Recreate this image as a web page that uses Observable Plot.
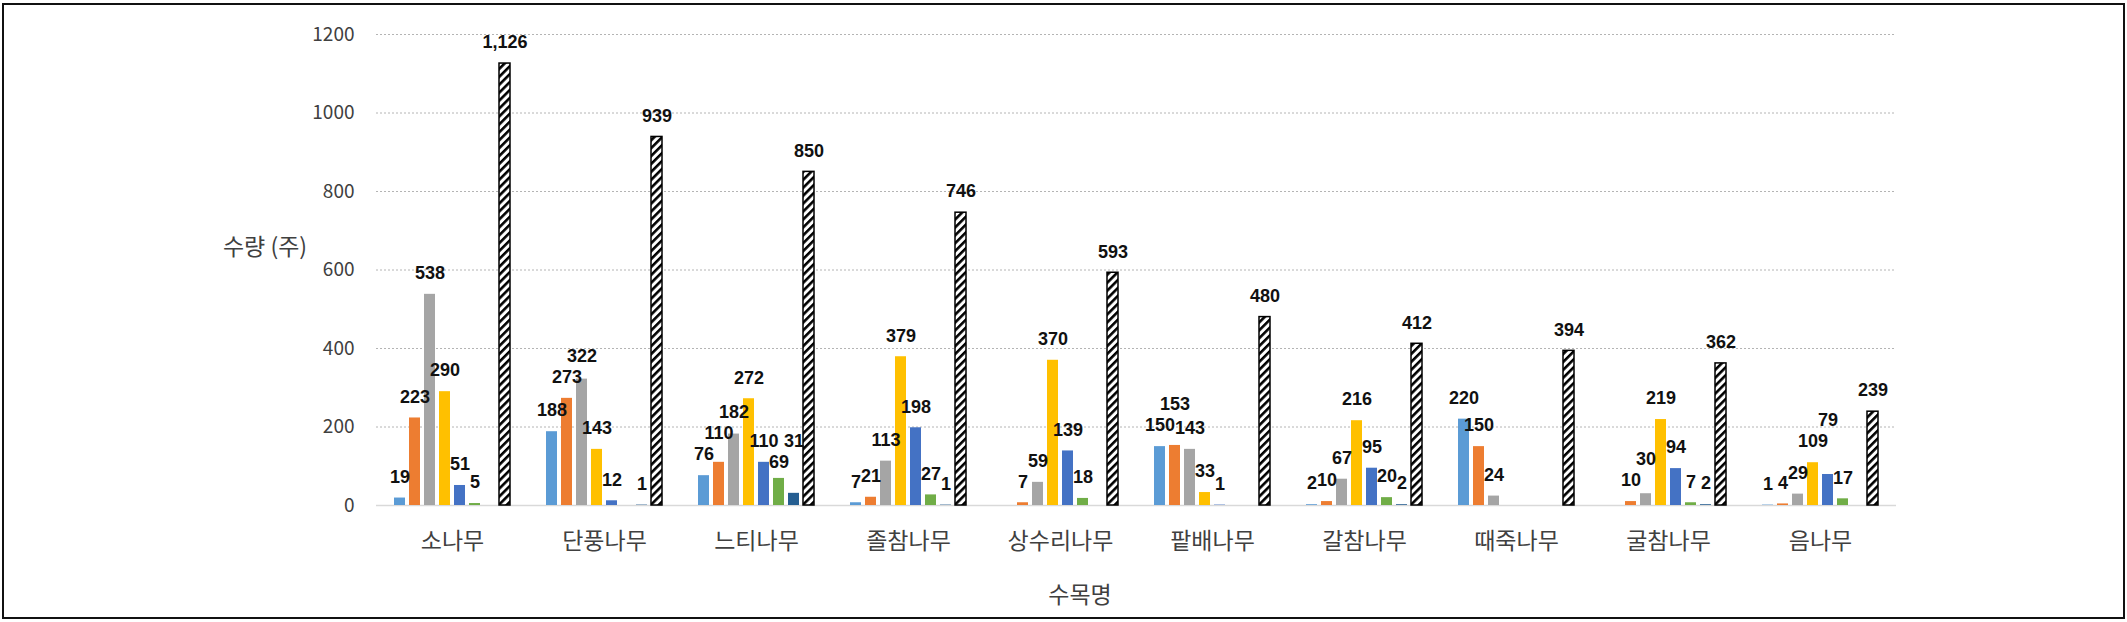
<!DOCTYPE html>
<html><head><meta charset="utf-8">
<script src="https://cdn.jsdelivr.net/npm/d3@7"></script>
<script src="https://cdn.jsdelivr.net/npm/@observablehq/plot@0.6"></script>
<style>
html,body{margin:0;padding:0;background:#fff;}
#wrap{position:relative;width:2127px;height:622px;overflow:hidden;font-family:"Noto Sans CJK KR","Noto Sans",sans-serif;background:#fff;}
#frame{position:absolute;left:2px;top:3px;width:2123px;height:616px;border:2px solid #111;box-sizing:border-box;pointer-events:none;}
.ttl{position:absolute;transform:translate(-50%,-50%);color:#404040;white-space:nowrap;line-height:1;}
#ylab{left:265px;top:245px;font-size:23px;}
#xlab{left:1080px;top:593px;font-size:23px;}
#chart svg{display:block;}
</style></head><body>
<div id="wrap"><div id="chart"></div><div id="ylab" class="ttl">수량 (주)</div><div id="xlab" class="ttl">수목명</div><div id="frame"></div></div>
<script>
const categories = ["소나무","단풍나무","느티나무","졸참나무","상수리나무","팥배나무","갈참나무","때죽나무","굴참나무","음나무"];
const seriesNames = ["1","2","3","4","5","6","7"];
const totalName = "합계";
const s1 = [19, 188, 76, 7, null, 150, 2, 220, null, 1];
const s2 = [223, 273, 110, 21, 7, 153, 10, 150, 10, 4];
const s3 = [538, 322, 182, 113, 59, 143, 67, 24, 30, 29];
const s4 = [290, 143, 272, 379, 370, 33, 216, null, 219, 109];
const s5 = [51, 12, 110, 198, 139, 1, 95, null, 94, 79];
const s6 = [5, null, 69, 27, 18, null, 20, null, 7, 17];
const s7 = [null, 1, 31, 1, null, null, 2, null, 2, null];
const totals = [1126, 939, 850, 746, 593, 480, 412, 394, 362, 239];
const yTicks = [0, 200, 400, 600, 800, 1000, 1200];
const seriesColors = ["#5B9BD5","#ED7D31","#A5A5A5","#FFC000","#4472C4","#70AD47","#255E91"];

const allSeries = [...seriesNames, totalName];
const values = [s1, s2, s3, s4, s5, s6, s7, totals];

const rows = [];
const totalRows = [];
categories.forEach((c, ci) => {
  values.forEach((arr, si) => {
    const v = arr[ci];
    if (v == null) return;
    const r = {category: c, series: allSeries[si], value: v};
    (si === 7 ? totalRows : rows).push(r);
  });
});

// layout
const W = 2127, H = 622, mT = 34, mB = 117, mL = 372, mR = 227;
const padIn = 0.245, padOut = 0.93;
const k = (H - mB - mT) / 1200;
const facetW = (W - mL - mR) / categories.length;
const slotStep = facetW / (8 - padIn + 2 * padOut);
const GAP = 21, LH = 21;
const fmt = d3.format(",");
function textW(s) { let w = 0; for (const ch of s) w += ch === "," ? 5 : 10; return w; }

// simple collision avoidance for value labels within a group
const labels = [];
categories.forEach((c, ci) => {
  const placed = [];
  values.forEach((arr, si) => {
    const v = arr[ci];
    if (v == null) return;
    const text = fmt(v);
    const w = textW(text);
    const x = si * slotStep;
    const barTop = v * k;
    const natural = barTop + GAP;
    let h = natural;
    for (let it = 0; it < 12; it++) {
      const hit = placed.find(p => Math.abs(p.x - x) < (p.w + w) / 2 && Math.abs(p.h - h) < LH);
      if (!hit) break;
      if (natural < hit.h && hit.h - LH - LH / 2 >= barTop + 2) h = hit.h - LH;
      else h = hit.h + LH;
    }
    placed.push({x, w, h});
    labels.push({category: c, series: allSeries[si], text, ly: h / k});
  });
});

const plot = Plot.plot({
  width: W, height: H,
  marginTop: mT, marginBottom: mB, marginLeft: mL, marginRight: mR,
  style: {fontFamily: '"Noto Sans CJK KR","Noto Sans",sans-serif', background: "transparent", overflow: "visible"},
  fx: {domain: categories, padding: 0, label: null},
  x: {domain: allSeries, paddingInner: padIn, paddingOuter: padOut, axis: null},
  y: {domain: [0, 1200], label: null},
  color: {domain: allSeries, range: [...seriesColors, "url(#hatch)"]},
  marks: [
    Plot.gridY(yTicks.slice(1), {stroke: "#b4b4b4", strokeOpacity: 1, strokeDasharray: "2,2"}),
    Plot.ruleY([0], {stroke: "#d9d9d9", strokeWidth: 1.5}),
    Plot.axisY(yTicks, {tickSize: 0, tickPadding: 22, fontSize: 19, fill: "#404040", label: null, tickFormat: d => String(d)}),
    Plot.axisFx({anchor: "bottom", tickSize: 0, tickPadding: 27, fontSize: 23, fill: "#404040", label: null}),
    Plot.barY(rows, {fx: "category", x: "series", y: "value", fill: "series"}),
    Plot.barY(totalRows, {fx: "category", x: "series", y: "value", fill: "series", stroke: "#000", strokeWidth: 1.5}),
    Plot.text(labels, {fx: "category", x: "series", y: "ly", text: "text", fontSize: 18, fontWeight: "bold", fill: "#111", fontFamily: '"Liberation Sans", Arial, sans-serif'})
  ]
});

const defs = d3.select(plot).insert("defs", ":first-child");
const pat = defs.append("pattern").attr("id", "hatch").attr("patternUnits", "userSpaceOnUse")
  .attr("width", 5.6).attr("height", 5.6).attr("patternTransform", "rotate(45)");
pat.append("rect").attr("width", 5.6).attr("height", 5.6).attr("fill", "#fff");
pat.append("rect").attr("width", 2.6).attr("height", 5.6).attr("fill", "#000");

document.getElementById("chart").appendChild(plot);
</script>
</body></html>
